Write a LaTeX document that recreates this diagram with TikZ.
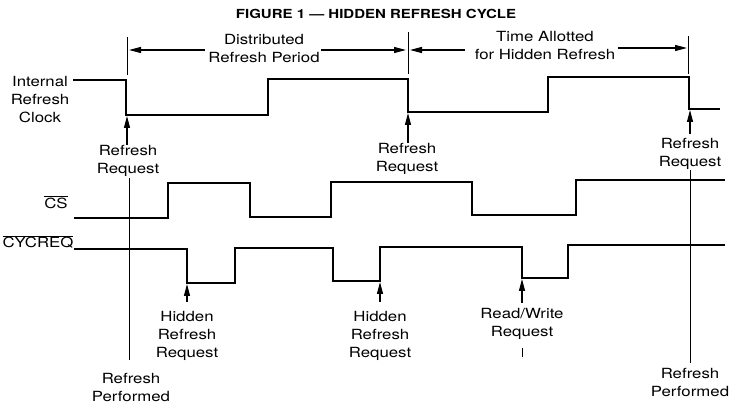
\documentclass[tikz,border=0pt]{standalone}
\usepackage{fontspec}
\setmainfont{TeX Gyre Heros}[FakeStretch=1.2]
\usetikzlibrary{arrows.meta}
\begin{document}
\begin{tikzpicture}[x=1pt,y=-1pt,
  sig/.style={line width=2.4pt,line join=miter},
  thin/.style={line width=0.9pt},
  arr/.style={line width=1.2pt,-{Triangle[length=12pt,width=6pt]}},
  lbl/.style={font=\fontsize{14}{18}\selectfont,align=center,inner sep=0pt},
  ttl/.style={font=\bfseries\fontsize{12.5}{14}\selectfont,inner sep=0pt}]
\useasboundingbox[fill=white] (0,0) rectangle (731,403);
\node[ttl] (title) at (376,14) {FIGURE 1 — HIDDEN REFRESH CYCLE};
% labels
\node[lbl] (clk) at (40,100) {Internal\\Refresh\\Clock};
\node[lbl] (cs) at (56,202) {$\overline{\mbox{CS}}$};
\node[lbl] (cyc) at (38,242) {$\overline{\mbox{CYCREQ}}$};
% signals
\draw[sig] (73,80) -- (126,80) -- (126,115) -- (268,115) -- (268,79) -- (408,79) -- (408,112) -- (548,112) -- (548,77) -- (689,77) -- (689,109) -- (720,109);
\draw[sig] (74,218) -- (168,218) -- (168,183) -- (250,183) -- (250,217) -- (331,217) -- (331,182) -- (472,182) -- (472,215) -- (576,215) -- (576,180) -- (725,180);
\draw[sig] (74,249) -- (187,249) -- (187,283) -- (235,283) -- (235,248) -- (333,248) -- (333,281) -- (380,281) -- (380,247) -- (522,247) -- (522,278) -- (568,278) -- (568,245) -- (725,245);
% period markers
\coordinate (m1t) at (127,37); \coordinate (m1b) at (127,75);
\coordinate (m2t) at (408,32); \coordinate (m2b) at (408,74);
\coordinate (m3t) at (688,36); \coordinate (m3b) at (688,74);
\draw[thin] (m1t) -- (m1b);
\draw[thin] (m2t) -- (m2b);
\draw[thin] (m3t) -- (m3b);
\node[lbl] (dist) at (264,49) {Distributed\\Refresh Period};
\node[lbl] (time) at (545,46) {Time Allotted\\for Hidden Refresh};
\draw[arr] (205,50) -- (129,50);
\draw[arr] (321,50) -- (406,50);
\draw[arr] (465,50) -- (410,50);
\draw[arr] (618,48) -- (687,48);
% refresh requests
\node[lbl] (rr1) at (128,161) {Refresh\\Request};
\node[lbl] (rr2) at (407,159) {Refresh\\Request};
\node[lbl] (rr3) at (690,154) {Refresh\\Request};
\coordinate (c1) at (127,116);
\coordinate (c2) at (408,113);
\coordinate (c3) at (690,110);
\draw[arr] (127,145) -- (c1);
\draw[arr] (408,143) -- (c2);
\draw[arr] (690,134) -- (c3);
% refresh performed
\node[lbl] (rp1) at (131,387) {Refresh\\Performed};
\node[lbl] (rp2) at (690,382) {Refresh\\Performed};
\draw[thin] (129,178) -- (129,360);
\draw[thin] (690,170) -- (690,363);
% hidden refresh requests
\node[lbl] (h1) at (187,336) {Hidden\\Refresh\\Request};
\node[lbl] (h2) at (380,336) {Hidden\\Refresh\\Request};
\node[lbl] (rw) at (522,324) {Read/Write\\Request};
\coordinate (hc1) at (187,284);
\coordinate (hc2) at (380,282);
\coordinate (hc3) at (522,279);
\draw[arr] (187,302) -- (hc1);
\draw[arr] (380,302) -- (hc2);
\draw[arr] (522,303) -- (hc3);
\draw[thin] (522,348) -- (522,357);
\end{tikzpicture}
\end{document}
